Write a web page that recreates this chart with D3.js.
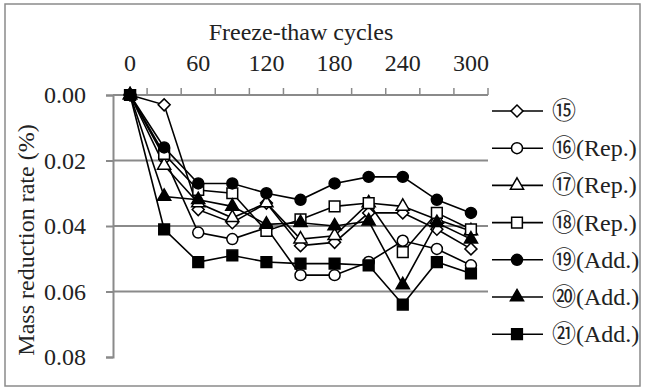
<!DOCTYPE html>
<html>
<head>
<meta charset="utf-8">
<script src="https://cdn.jsdelivr.net/npm/d3@7"></script>
<style>
  body { margin: 0; background: #fff; }
  svg text { font-family: "Liberation Serif", "Times New Roman", Tinos, "DejaVu Serif", serif, "Noto Sans CJK JP"; fill: #222; }
</style>
</head>
<body>
<div class="chart_area"></div>
<script>
var cycles = [0, 30, 60, 90, 120, 150, 180, 210, 240, 270, 300];
var xLabels = [0, 60, 120, 180, 240, 300];
var yTicks = [0, 0.02, 0.04, 0.06, 0.08];

var s15 = [0, 0.003, 0.035, 0.039, 0.033, 0.046, 0.045, 0.036, 0.036, 0.041, 0.047];
var s16 = [0, 0.019, 0.042, 0.044, 0.0405, 0.055, 0.055, 0.051, 0.0445, 0.047, 0.052];
var s17 = [0, 0.0215, 0.033, 0.0375, 0.033, 0.044, 0.043, 0.033, 0.034, 0.038, 0.0415];
var s18 = [0, 0.018, 0.029, 0.030, 0.0415, 0.038, 0.034, 0.033, 0.048, 0.036, 0.041];
var s19 = [0, 0.016, 0.027, 0.027, 0.030, 0.032, 0.027, 0.025, 0.025, 0.032, 0.036];
var s20 = [0, 0.031, 0.032, 0.034, 0.0395, 0.039, 0.040, 0.0385, 0.058, 0.039, 0.044];
var s21 = [0, 0.041, 0.051, 0.049, 0.051, 0.0515, 0.0515, 0.052, 0.064, 0.051, 0.0545];

var seriesNames = ["⑮", "⑯(Rep.)", "⑰(Rep.)", "⑱(Rep.)", "⑲(Add.)", "⑳(Add.)", "㉑(Add.)"];
var seriesValues = [s15, s16, s17, s18, s19, s20, s21];

var W = 646, H = 391;
var plot = { left: 113, right: 488, top: 95, bottom: 357 };
var gray = "#8a8a8a";
var fontSize = "24px";

var svg = d3.select(".chart_area").append("svg")
    .attr("width", W).attr("height", H);

// outer frame
svg.append("rect")
    .attr("x", 5).attr("y", 4).attr("width", 635).attr("height", 382)
    .attr("fill", "none").attr("stroke", gray).attr("stroke-width", 1.5);

var x = d3.scaleBand().domain(cycles).range([plot.left, plot.right]).padding(0);
var xEdge = d3.scaleLinear().domain([0, cycles.length]).range([plot.left, plot.right]);
var y = d3.scaleLinear().domain([0, 0.08]).range([plot.top, plot.bottom]);
var cx = function(c){ return x(c) + x.bandwidth() / 2; };

// gridlines
svg.append("g").selectAll("line")
    .data(yTicks.filter(function(d){ return d > 0 && d < 0.08; }))
    .enter().append("line")
    .attr("x1", plot.left).attr("x2", plot.right)
    .attr("y1", function(d){ return y(d); }).attr("y2", function(d){ return y(d); })
    .attr("stroke", gray).attr("stroke-width", 2);

// y axis
var yAxis = svg.append("g")
    .attr("transform", "translate(" + plot.left + ",0)")
    .call(d3.axisLeft(y).tickValues(yTicks).tickFormat(d3.format(".2f")).tickSize(7).tickPadding(20));
yAxis.attr("font-family", null);
yAxis.select(".domain").attr("stroke", gray).attr("stroke-width", 2);
yAxis.selectAll(".tick line").attr("stroke", gray).attr("stroke-width", 2);
yAxis.selectAll(".tick text").style("font-size", fontSize).attr("fill", "#222");

// x axis on top (category axis, ticks between categories)
svg.append("line")
    .attr("x1", plot.left).attr("x2", plot.right)
    .attr("y1", plot.top).attr("y2", plot.top)
    .attr("stroke", gray).attr("stroke-width", 2);
svg.append("g").selectAll("line")
    .data(d3.range(1, cycles.length + 1))
    .enter().append("line")
    .attr("x1", function(d){ return xEdge(d); }).attr("x2", function(d){ return xEdge(d); })
    .attr("y1", plot.top).attr("y2", plot.top - 7)
    .attr("stroke", gray).attr("stroke-width", 1.5);
svg.append("g").selectAll("text")
    .data(xLabels)
    .enter().append("text")
    .attr("x", function(d){ return cx(d); })
    .attr("y", 71)
    .attr("text-anchor", "middle")
    .style("font-size", fontSize)
    .text(function(d){ return d; });

// axis titles
svg.append("text")
    .attr("x", 301).attr("y", 40)
    .attr("text-anchor", "middle")
    .style("font-size", fontSize)
    .text("Freeze-thaw cycles");
svg.append("text")
    .attr("transform", "translate(34,240) rotate(-90)")
    .attr("text-anchor", "middle")
    .style("font-size", fontSize)
    .text("Mass reduction rate (%)");

// markers
var markers = [
    { type: d3.symbolSquare, size: 72, rot: 45, fill: "#fff" },
    { type: d3.symbolCircle, size: 95, rot: 0, fill: "#fff" },
    { type: d3.symbolTriangle, size: 75, rot: 0, fill: "#fff" },
    { type: d3.symbolSquare, size: 115, rot: 0, fill: "#fff" },
    { type: d3.symbolCircle, size: 95, rot: 0, fill: "#000" },
    { type: d3.symbolTriangle, size: 75, rot: 0, fill: "#000" },
    { type: d3.symbolSquare, size: 115, rot: 0, fill: "#000" }
];

var line = d3.line()
    .x(function(d, i){ return cx(cycles[i]); })
    .y(function(d){ return y(d); });

seriesValues.forEach(function(vals, k){
    var g = svg.append("g");
    g.append("path")
        .attr("d", line(vals))
        .attr("fill", "none").attr("stroke", "#000").attr("stroke-width", 1.6);
    var m = markers[k];
    g.selectAll("path.pt")
        .data(vals)
        .enter().append("path")
        .attr("class", "pt")
        .attr("d", d3.symbol().type(m.type).size(m.size))
        .attr("transform", function(d, i){
            return "translate(" + cx(cycles[i]) + "," + y(d) + ") rotate(" + m.rot + ")";
        })
        .attr("fill", m.fill).attr("stroke", "#000").attr("stroke-width", 1.5);
});

// legend
var legend = svg.append("g").selectAll("g")
    .data(seriesNames)
    .enter().append("g")
    .attr("transform", function(d, i){ return "translate(0," + (111 + i * 37.2) + ")"; });
legend.append("line")
    .attr("x1", 492).attr("x2", 543)
    .attr("stroke", "#000").attr("stroke-width", 1.6);
legend.append("path")
    .attr("d", function(d, i){ return d3.symbol().type(markers[i].type).size(markers[i].size)(); })
    .attr("transform", function(d, i){ return "translate(517,0) rotate(" + markers[i].rot + ")"; })
    .attr("fill", function(d, i){ return markers[i].fill; })
    .attr("stroke", "#000").attr("stroke-width", 1.5);
legend.append("text")
    .attr("x", 552).attr("y", 8)
    .style("font-size", fontSize)
    .text(function(d){ return d; });
</script>
</body>
</html>
